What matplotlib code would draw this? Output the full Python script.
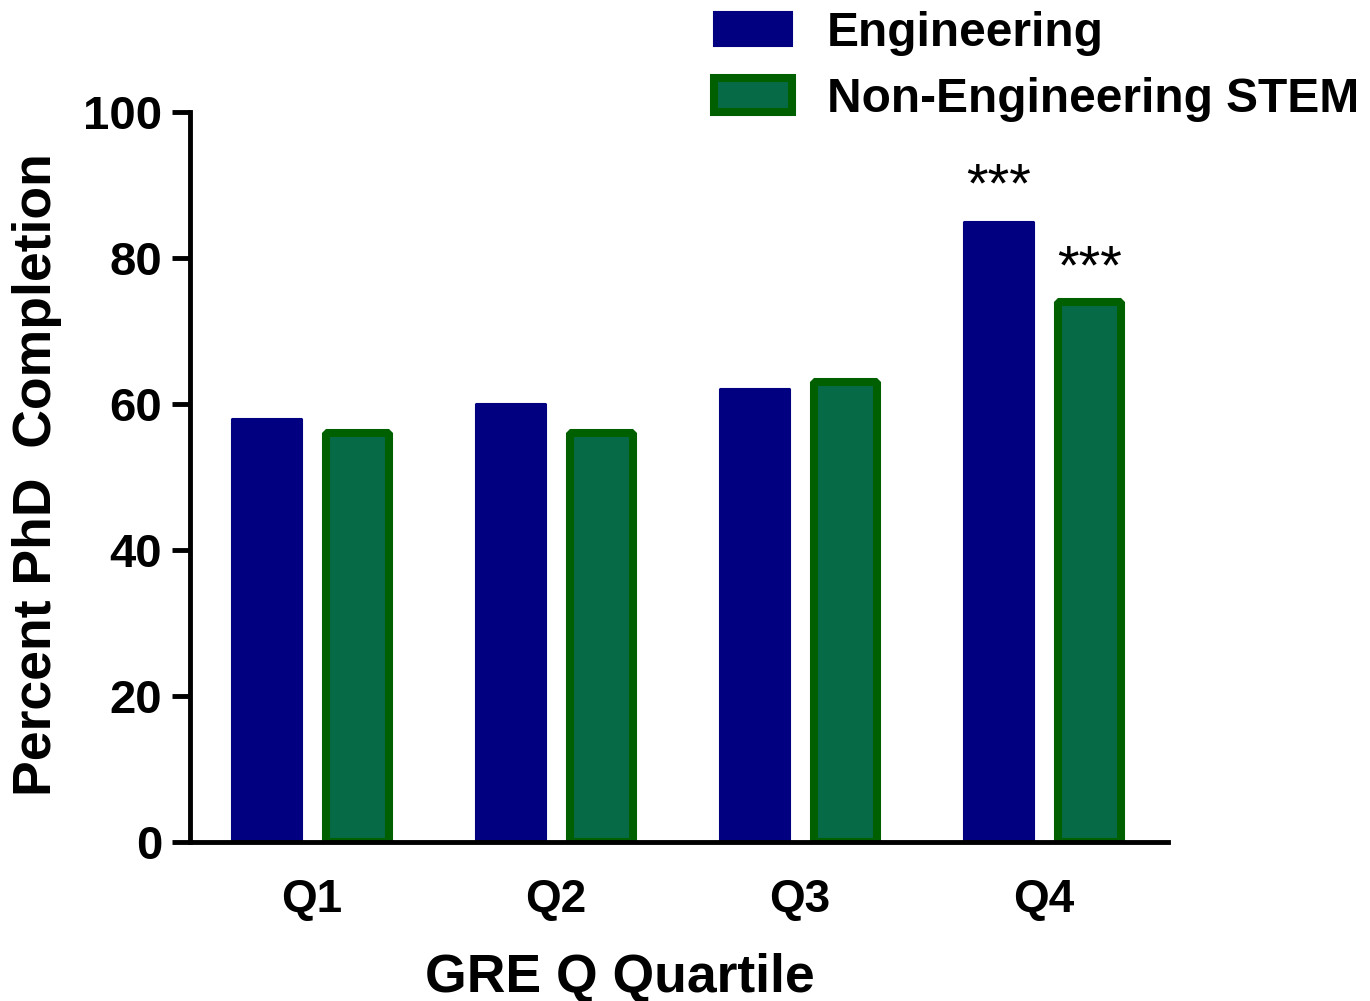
import matplotlib
matplotlib.use("Agg")
import matplotlib.pyplot as plt
import numpy as np

# data
quartiles = ["Q1", "Q2", "Q3", "Q4"]
engineering = [58, 60, 62, 85]
non_engineering = [56, 56, 63, 74]
stars_eng = ["", "", "", "***"]
stars_non = ["", "", "", "***"]
y_ticks = [0, 20, 40, 60, 80, 100]

NAVY = "#000080"
GREEN_FILL = "#076A47"
GREEN_EDGE = "#006000"

plt.rcParams["font.family"] = ["Liberation Sans", "DejaVu Sans"]
plt.rcParams["font.weight"] = "bold"

fig = plt.figure(figsize=(13.7, 10.01), dpi=100)
ax = fig.add_axes([190 / 1370, 1 - 842 / 1001, (1168 - 190) / 1370, (842 - 112) / 1001])

x = np.arange(len(quartiles))
off = 0.186
b1 = ax.bar(x - off, engineering, width=0.287, color=NAVY, edgecolor=NAVY,
            linewidth=1.5, joinstyle="bevel", label="Engineering", zorder=2)
b2 = ax.bar(x + off, non_engineering, width=0.255, color=GREEN_FILL,
            edgecolor=GREEN_EDGE, linewidth=5.8, joinstyle="bevel",
            label="Non-Engineering STEM", zorder=2)

# significance markers
for xi, v, s in zip(x, engineering, stars_eng):
    if s:
        ax.text(xi - off, v + 4.6, s, ha="center", va="center",
                fontsize=40, fontweight="normal")
for xi, v, s in zip(x, non_engineering, stars_non):
    if s:
        ax.text(xi + off, v + 4.5, s, ha="center", va="center",
                fontsize=40, fontweight="normal")

ax.set_xlim(-0.5, 3.508)
ax.set_ylim(0, 100)
ax.set_yticks(y_ticks)
ax.set_xticks(x)
ax.set_xticklabels(quartiles)
ax.tick_params(axis="y", length=13, width=3.5, pad=7, labelsize=34, direction="out")
ax.tick_params(axis="x", length=0, pad=26, labelsize=33)
for lab in ax.get_xticklabels() + ax.get_yticklabels():
    lab.set_fontweight("bold")

for side in ["top", "right"]:
    ax.spines[side].set_visible(False)
for side in ["left", "bottom"]:
    ax.spines[side].set_linewidth(3.5)
ax.spines["bottom"].set_zorder(3)

fig.text(620 / 1370, 1 - 978 / 1001, "GRE Q Quartile", ha="center", va="center",
         fontsize=38.5, fontweight="bold")
fig.text(37 / 1370, 1 - 475 / 1001, "Percent PhD  Completion", ha="center", va="center",
         rotation=90, fontsize=38.5, fontweight="bold")

leg = ax.legend(handles=[b1, b2], loc="upper left",
                bbox_to_anchor=(714 / 1370, 1 - 11 / 1001), bbox_transform=fig.transFigure,
                frameon=False, fontsize=34.5, borderpad=0, borderaxespad=0,
                handlelength=1.62, handleheight=0.7, handletextpad=0.74,
                labelspacing=0.43)
for t in leg.get_texts():
    t.set_fontweight("bold")

fig.savefig("out.png", dpi=100)
